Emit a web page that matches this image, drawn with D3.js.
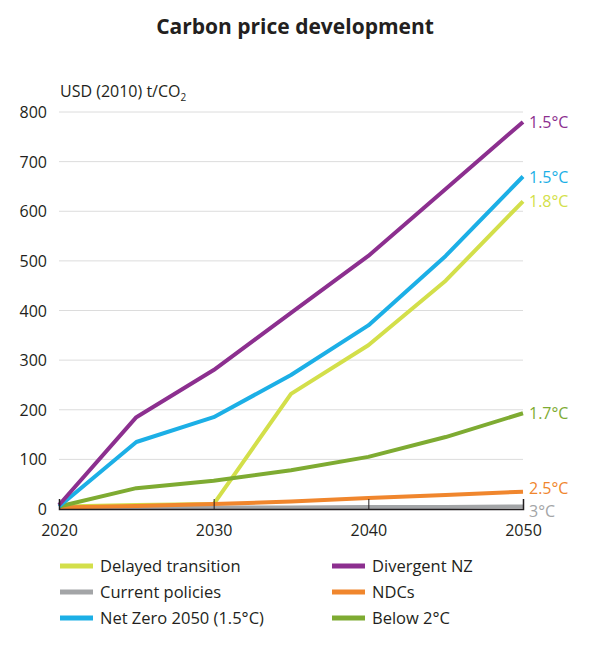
<!DOCTYPE html>
<html><head><meta charset="utf-8">
<script src="https://cdn.jsdelivr.net/npm/d3@7"></script>
<style>body{margin:0;background:#fff;} text{font-family:"Open Sans","Noto Sans",sans-serif;}</style>
</head><body>
<svg id="c" width="600" height="650"></svg>
<script>
const years = [2020, 2025, 2030, 2035, 2040, 2045, 2050];
const delayedTransition = [5, 8, 10, 232, 330, 460, 620];
const currentPolicies = [3, 3, 3, 3, 4, 4, 5];
const ndcs = [3, 6, 10, 15, 22, 28, 35];
const belowTwo = [5, 42, 57, 78, 105, 145, 193];
const netZero = [5, 135, 185, 270, 370, 510, 670];
const divergentNZ = [8, 185, 280, 395, 510, 645, 780];
const yTicks = [0, 100, 200, 300, 400, 500, 600, 700, 800];
const xTicks = [2020, 2030, 2040, 2050];
const seriesNames = ["Delayed transition", "Current policies", "Net Zero 2050 (1.5°C)", "Divergent NZ", "NDCs", "Below 2°C"];
const endLabels = ["1.8°C", "3°C", "1.5°C", "1.5°C", "2.5°C", "1.7°C"];
const colors = ["#d3df4a", "#a3a5a7", "#1cafe6", "#8c2f8f", "#f0862d", "#7eab32"];
const seriesValues = [delayedTransition, currentPolicies, netZero, divergentNZ, ndcs, belowTwo];
const drawOrder = [0, 1, 4, 5, 2, 3];
const labelDy = [0, 4, 0, 0, -4, 0];

const svg = d3.select("#c");
const x = d3.scaleLinear().domain([2020, 2050]).range([59, 523]);
const y = d3.scaleLinear().domain([0, 800]).range([509, 112]);

svg.append("text").attr("x", 295).attr("y", 34).attr("text-anchor", "middle")
  .attr("font-size", 21).attr("font-weight", "bold").attr("fill", "#231f20").text("Carbon price development");

const yl = svg.append("text").attr("x", 60).attr("y", 97).attr("font-size", 16).attr("fill", "#231f20");
yl.append("tspan").text("USD (2010) t/CO");
yl.append("tspan").attr("font-size", 10).attr("dy", 4).text("2");

// gridlines
svg.append("g").selectAll("line").data(yTicks.slice(1)).join("line")
  .attr("x1", 59).attr("x2", 523).attr("y1", d => y(d)).attr("y2", d => y(d))
  .attr("stroke", "#dcdcdc").attr("stroke-width", 1);

// y labels
svg.append("g").selectAll("text").data(yTicks).join("text")
  .attr("x", 47).attr("y", d => y(d) + 6).attr("text-anchor", "end")
  .attr("font-size", 16).attr("fill", "#231f20").text(d => d);

const line = d3.line().x((d, i) => x(years[i])).y(d => y(d));

drawOrder.forEach(k => {
  const vals = seriesValues[k];
  svg.append("path").datum(vals).attr("d", line).attr("fill", "none")
    .attr("stroke", colors[k]).attr("stroke-width", 4).attr("stroke-linejoin", "round");
});

// x axis
const xAxis = svg.append("g").attr("transform", `translate(0,${y(0)})`)
  .call(d3.axisBottom(x).tickValues(xTicks).tickFormat(d3.format("d")).tickSize(-10).tickPadding(16));
xAxis.select(".domain").attr("stroke", "#231f20").attr("stroke-width", 1.5);
xAxis.selectAll(".tick line").attr("stroke", "#231f20").attr("stroke-width", 1);
xAxis.selectAll(".tick text").attr("font-size", 16).attr("fill", "#231f20").attr("font-family", "Open Sans");

// end labels
seriesValues.forEach((vals, k) => {
  svg.append("text").attr("x", 529).attr("y", y(vals[vals.length - 1]) + 6 + labelDy[k])
    .attr("font-size", 16).attr("fill", colors[k]).text(endLabels[k]);
});

// legend
const leg = svg.append("g");
seriesNames.forEach((n, k) => {
  const col = k < 3 ? 0 : 1, row = k % 3;
  const lx = col === 0 ? 60 : 332, ly = 566 + row * 26;
  leg.append("line").attr("x1", lx).attr("x2", lx + 33).attr("y1", ly).attr("y2", ly)
    .attr("stroke", colors[k]).attr("stroke-width", 5);
  leg.append("text").attr("x", lx + 40).attr("y", ly + 6).attr("font-size", 16.5)
    .attr("fill", "#231f20").text(n);
});
</script>
</body></html>
